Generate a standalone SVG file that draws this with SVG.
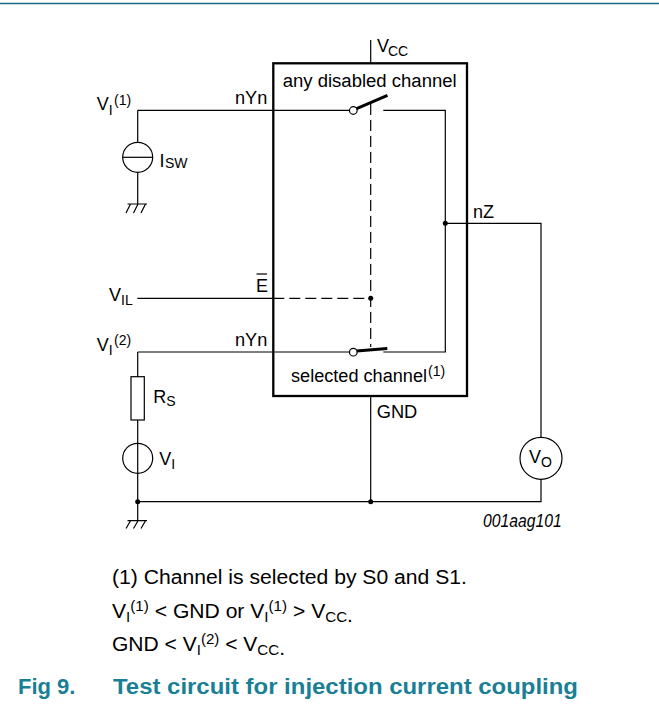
<svg xmlns="http://www.w3.org/2000/svg" width="659" height="706" viewBox="0 0 659 706">
<style>
.w{stroke:#000;stroke-width:1.2;fill:none}
.box{stroke:#000;stroke-width:2.3;fill:none}
.d{stroke:#000;stroke-width:1.2;stroke-dasharray:11 5;fill:none}
.lev{stroke:#000;stroke-width:3;fill:none}
.dot{fill:#000}
.sw{stroke:#000;stroke-width:1.2;fill:#fff}
.t{font-family:"Liberation Sans",Arial,sans-serif;font-size:18px;fill:#000}
.s{font-size:14px}
.cap{font-family:"Liberation Sans",Arial,sans-serif;font-size:19.5px;fill:#000}
.cs{font-size:14px}
.fig{font-family:"Liberation Sans",Arial,sans-serif;font-size:22px;font-weight:bold;fill:#1a7f96}
</style>
<line x1="0" y1="3.5" x2="659" y2="3.5" stroke="#1d6a84" stroke-width="1.5"/>

<g id="connectors">
  <path class="w" d="M370.7 40V63.3"/>
  <path class="w" d="M137.7 110.3H349.3"/>
  <path class="w" d="M137.7 110.3V142.3M137.7 172.3V204"/>
  <path class="w" d="M383.3 110.3H445.3V352H383.3"/>
  <path class="w" d="M445.3 223.3H541V437.3M541 479.3V501.7H137.7"/>
  <path class="w" d="M137.3 298.3H273.3"/>
  <path class="d" d="M273.3 298.3H370.7"/>
  <path class="d" d="M370.7 104V347"/>
  <path class="w" d="M137.7 352H349.3"/>
  <path class="w" d="M137.7 352V376.7M137.7 420V520.7"/>
  <path class="w" d="M370.7 396V501.7"/>
  <circle class="dot" cx="445.3" cy="223.3" r="2.5"/>
  <circle class="dot" cx="370.7" cy="298.3" r="2.5"/>
  <circle class="dot" cx="370.7" cy="501.7" r="2.5"/>
  <circle class="dot" cx="137.7" cy="501.7" r="2.5"/>
</g>

<g id="chip">
  <rect class="box" x="273.3" y="63.3" width="193.7" height="332.7"/>
  <text class="t" x="282.7" y="86.5" textLength="174" lengthAdjust="spacingAndGlyphs">any disabled channel</text>
  <text class="t"><tspan x="291" y="381.7" textLength="136" lengthAdjust="spacingAndGlyphs">selected channel</tspan><tspan class="s" x="428" y="376">(1)</tspan></text>
  <text class="t"><tspan x="377" y="52">V</tspan><tspan class="s" x="388" y="56">CC</tspan></text>
  <text class="t" x="376.7" y="418" textLength="40.6" lengthAdjust="spacingAndGlyphs">GND</text>
  <text class="t" x="473" y="218" textLength="21" lengthAdjust="spacingAndGlyphs">nZ</text>
  <text class="t" x="235" y="104" textLength="32.3" lengthAdjust="spacingAndGlyphs">nYn</text>
  <text class="t" x="235" y="346" textLength="32.3" lengthAdjust="spacingAndGlyphs">nYn</text>
  <text class="t" x="256" y="292.3">E</text>
  <line x1="256.5" y1="274" x2="267" y2="274" stroke="#000" stroke-width="1.2"/>
</g>

<g id="switch-disabled">
  <line class="lev" x1="356" y1="108.8" x2="387.5" y2="95.3"/>
  <circle class="sw" cx="353.3" cy="110.5" r="3.8"/>
</g>

<g id="switch-selected">
  <line class="lev" x1="356.5" y1="351" x2="387.3" y2="348.5"/>
  <circle class="sw" cx="353.3" cy="352.2" r="3.8"/>
</g>

<g id="isw-source">
  <circle class="w" cx="137.7" cy="157.3" r="15"/>
  <line class="w" x1="122.7" y1="157.3" x2="152.7" y2="157.3"/>
  <text class="t"><tspan x="159.5" y="166.7">I</tspan><tspan class="s" x="165" y="168.3">SW</tspan></text>
  <text class="t"><tspan x="96.7" y="110">V</tspan><tspan class="s" y="114.5">I</tspan><tspan class="s" x="114" y="104.5">(1)</tspan></text>
</g>

<g id="ground-1">
  <path class="w" d="M127.5 204H147M130.5 204L126 213M138 204L133.5 213M145.5 204L141 213"/>
</g>

<g id="vil">
  <text class="t"><tspan x="109" y="300.7">V</tspan><tspan class="s" y="305">IL</tspan></text>
</g>

<g id="vi2">
  <text class="t"><tspan x="96.7" y="350.7">V</tspan><tspan class="s" y="355">I</tspan><tspan class="s" x="114" y="345">(2)</tspan></text>
</g>

<g id="rs">
  <rect class="w" x="131" y="376.7" width="13.3" height="43.3"/>
  <text class="t"><tspan x="153.3" y="403.3">R</tspan><tspan class="s" y="406">S</tspan></text>
</g>

<g id="vi-source">
  <circle class="w" cx="137.7" cy="458.3" r="15"/>
  <text class="t"><tspan x="159.3" y="465">V</tspan><tspan class="s" y="469">I</tspan></text>
</g>

<g id="ground-2">
  <path class="w" d="M127.5 520.7H147M130.5 520.7L126 528.5M138 520.7L133.5 528.5M145.5 520.7L141 528.5"/>
</g>

<g id="vo-meter">
  <circle class="w" cx="541" cy="458.3" r="21"/>
  <text class="t"><tspan x="529" y="463.3">V</tspan><tspan class="s" y="467">O</tspan></text>
</g>

<text class="t" x="483" y="527" font-style="italic" font-size="15" textLength="78.7" lengthAdjust="spacingAndGlyphs">001aag101</text>

<g id="notes">
  <text class="cap" x="112" y="584" textLength="355" lengthAdjust="spacingAndGlyphs">(1) Channel is selected by S0 and S1.</text>
  <text class="cap" x="112" y="618" textLength="241" lengthAdjust="spacingAndGlyphs">V<tspan class="cs" y="622">I</tspan><tspan class="cs" y="611">(1)</tspan><tspan y="618"> &lt; GND or V</tspan><tspan class="cs" y="622">I</tspan><tspan class="cs" y="611">(1)</tspan><tspan y="618"> &gt; V</tspan><tspan class="cs" y="622">CC</tspan><tspan y="622">.</tspan></text>
  <text class="cap" x="112" y="651" textLength="173" lengthAdjust="spacingAndGlyphs">GND &lt; V<tspan class="cs" y="655">I</tspan><tspan class="cs" y="644">(2)</tspan><tspan y="651"> &lt; V</tspan><tspan class="cs" y="655">CC</tspan><tspan y="655">.</tspan></text>
  <text class="fig" x="18" y="694">Fig 9.</text>
  <text class="fig" x="113" y="694" textLength="465" lengthAdjust="spacingAndGlyphs">Test circuit for injection current coupling</text>
</g>
</svg>
